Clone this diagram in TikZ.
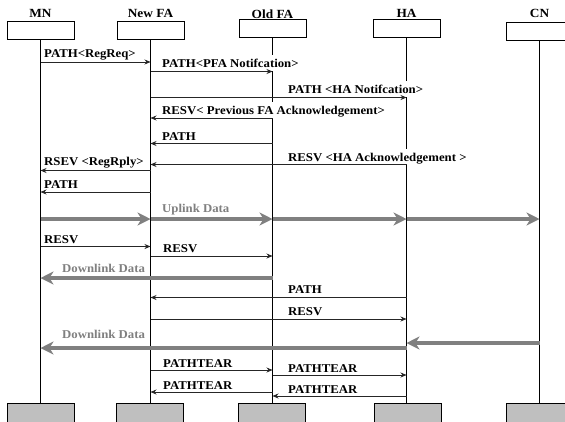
\documentclass[tikz,border=0pt]{standalone}
\usepackage{fontspec}
\setmainfont{Liberation Serif}[FakeStretch=1.07]
\usetikzlibrary{arrows.meta}
\definecolor{datagray}{RGB}{128,128,128}

\begin{document}
\begin{tikzpicture}[x=1bp,y=-1bp,
    font=\bfseries\fontsize{12}{14}\selectfont,
    head/.style={draw, line width=0.8bp, minimum width=67bp, minimum height=18bp, inner sep=0pt},
    foot/.style={draw, line width=0.8bp, fill=gray!50, minimum width=67bp, minimum height=22bp, inner sep=0pt},
    title/.style={anchor=base, font=\bfseries\fontsize{12.5}{14}\selectfont},
    lbl/.style={anchor=base west, fill=white, inner xsep=1bp, inner ysep=0pt, text height=12bp, text depth=4bp},
    msg/.style={line width=0.7bp, black!85, -{Stealth[length=6bp,width=5bp]}},
    data/.style={line width=4bp, datagray, -{Stealth[length=13bp,width=13bp,inset=4bp]}}]
  \useasboundingbox (0,0) rectangle (565,421);
  \node[head] (mn) at (40.5,30) {};
  \node[head] (nfa) at (150.5,30) {};
  \node[head] (ofa) at (272.5,28) {};
  \node[head] (ha) at (406.5,28) {};
  \node[head] (cn) at (539.5,31) {};
  \node[title] (mnT) at (40.5,17) {MN};
  \node[title] (nfaT) at (150.5,17) {New FA};
  \node[title] (ofaT) at (272.5,18.5) {Old FA};
  \node[title] (haT) at (406.5,17) {HA};
  \node[title] (cnT) at (539.5,17) {CN};
  \node[foot] (mn-end) at (40.5,414) {};
  \node[foot] (nfa-end) at (149.5,414) {};
  \node[foot] (ofa-end) at (272,414) {};
  \node[foot] (ha-end) at (408,414) {};
  \node[foot] (cn-end) at (539.5,414) {};
  \foreach \n in {mn,nfa,ofa,ha,cn}
    \draw[line width=0.8bp] (\n.south) -- (\n |- \n-end.north);

  \node[lbl] (m1) at (43,57) {PATH<RegReq>};
  \node[lbl] (m2) at (161,67) {PATH<PFA Notifcation>};
  \node[lbl] (m3) at (287,93) {PATH <HA Notifcation>};
  \node[lbl] (m4) at (161,114) {RESV< Previous FA Acknowledgement>};
  \node[lbl] (m5) at (161,140) {PATH};
  \node[lbl] (m6) at (287,161) {RESV <HA Acknowledgement >};
  \node[lbl] (m7) at (43,165) {RSEV <RegRply>};
  \node[lbl] (m8) at (43,188) {PATH};
  \node[lbl, text=datagray] (d1) at (161,212) {Uplink Data};
  \node[lbl] (m9) at (43,243) {RESV};
  \node[lbl] (m10) at (162,252) {RESV};
  \node[lbl, text=datagray] (d2) at (61,272) {Downlink Data};
  \node[lbl] (m11) at (287,293) {PATH};
  \node[lbl] (m12) at (287,315) {RESV};
  \node[lbl, text=datagray] (d3) at (61,338) {Downlink Data};
  \node[lbl] (m13) at (162,367) {PATHTEAR};
  \node[lbl] (m14) at (287,372) {PATHTEAR};
  \node[lbl] (m15) at (162,389) {PATHTEAR};
  \node[lbl] (m16) at (287,393) {PATHTEAR};

  \draw[msg] (mn |- 0,62) -- (nfa |- 0,62);
  \draw[msg] (nfa |- 0,71.5) -- (ofa |- 0,71.5);
  \draw[msg] (nfa |- 0,97.5) -- (ha |- 0,97.5);
  \draw[msg] (ofa |- 0,118) -- (nfa |- 0,118);
  \draw[msg] (ofa |- 0,143.5) -- (nfa |- 0,143.5);
  \draw[msg] (ha |- 0,164.5) -- (nfa |- 0,164.5);
  \draw[msg] (nfa |- 0,170.5) -- (mn |- 0,170.5);
  \draw[msg] (nfa |- 0,192) -- (mn |- 0,192);
  \foreach \a/\b in {mn/nfa,nfa/ofa,ofa/ha,ha/cn}
    \draw[data] (\a |- 0,219) -- (\b |- 0,219);
  \draw[msg] (mn |- 0,246.5) -- (nfa |- 0,246.5);
  \draw[msg] (nfa |- 0,256) -- (ofa |- 0,256);
  \draw[data] (ofa |- 0,278) -- (mn |- 0,278);
  \draw[msg] (ha |- 0,297.5) -- (nfa |- 0,297.5);
  \draw[msg] (nfa |- 0,319) -- (ha |- 0,319);
  \draw[data] (cn |- 0,343) -- (ha |- 0,343);
  \draw[data] (ha |- 0,348) -- (mn |- 0,348);
  \draw[msg] (nfa |- 0,370) -- (ofa |- 0,370);
  \draw[msg] (ofa |- 0,375) -- (ha |- 0,375);
  \draw[msg] (ofa |- 0,392) -- (nfa |- 0,392);
  \draw[msg] (ha |- 0,396) -- (ofa |- 0,396);
\end{tikzpicture}
\end{document}
